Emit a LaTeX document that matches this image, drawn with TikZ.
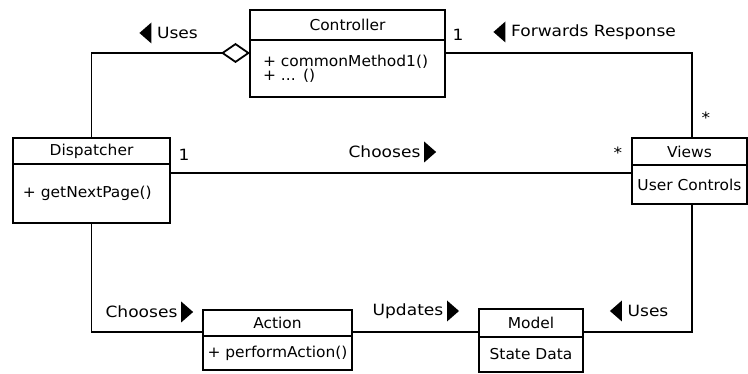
\documentclass[tikz,border=0pt]{standalone}
\usepackage{fontspec}
\setmainfont{DejaVu Sans}[FakeStretch=1.1]
\newfontfamily\classfamily{DejaVu Sans}[FakeStretch=1.03]
\usetikzlibrary{positioning,arrows.meta}
\newcommand{\boxfont}{\classfamily\fontsize{15}{14}\selectfont}
\newcommand{\lblfont}{\fontsize{15.5}{18}\selectfont}
% filled triangles beside the association names
\newcommand{\lefttri}[1]{\fill ([xshift=-5pt]#1.west) -- ++(0,10.5pt) -- ++(-12pt,-10.5pt) -- ++(12pt,-10.5pt) -- cycle;}
\newcommand{\righttri}[1]{\fill ([xshift=3pt]#1.east) -- ++(0,10.5pt) -- ++(12pt,-10.5pt) -- ++(-12pt,-10.5pt) -- cycle;}
\begin{document}
\begin{tikzpicture}[x=1pt, y=1pt, line width=1.4pt]
\tikzset{classtitle/.style={draw, line width=1.8pt, outer sep=0pt, inner sep=2pt, font=\boxfont},
  classbody/.style={draw, line width=1.8pt, outer sep=0pt, inner sep=2pt, font=\boxfont},
  assoc/.style={font=\lblfont, inner sep=0pt},
  mult/.style={font=\lblfont, inner sep=0pt}}
\useasboundingbox (0,0) rectangle (748,374);
% classes
\node[classtitle, minimum width=195, minimum height=30] (ctrl-t) at (347.5,349) {Controller};
\node[classbody, below=0pt of ctrl-t, minimum width=195, minimum height=57, text width=169, inner xsep=13, align=left] (ctrl-b) {+ commonMethod1()\\+ ... ()};
\node[classtitle, minimum width=157, minimum height=26] (disp-t) at (91.5,223) {Dispatcher};
\node[classbody, below=0pt of disp-t, minimum width=157, minimum height=59, text width=137, inner xsep=10, align=left] (disp-b) {+ getNextPage()};
\node[classtitle, minimum width=115, minimum height=27] (views-t) at (689.5,222.5) {Views};
\node[classbody, below=0pt of views-t, minimum width=115, minimum height=39] (views-b) {User Controls};
\node[classtitle, minimum width=149, minimum height=26] (act-t) at (277.5,51) {Action};
\node[classbody, below=0pt of act-t, minimum width=149, minimum height=34] (act-b) {+ performAction()};
\node[classtitle, minimum width=104, minimum height=28] (model-t) at (531,51) {Model};
\node[classbody, below=0pt of model-t, minimum width=104, minimum height=35] (model-b) {State Data};
% connectors
\coordinate (c-in) at ([yshift=-13pt]ctrl-b.north west);
\coordinate (c-out) at ([yshift=-13pt]ctrl-b.north east);
\coordinate (d-out) at ([yshift=-9pt]disp-b.north east);
\coordinate (a-in) at ([yshift=4pt]act-t.south west);
\coordinate (a-out) at ([yshift=4pt]act-t.south east);
\draw[-{Diamond[open, length=29pt, width=20pt, line width=1.8pt]}] (disp-t.north) |- (c-in);
\draw (c-out) -| ([xshift=2.5pt]views-t.north);
\draw (d-out) -- (d-out -| views-b.west);
\draw (disp-b.south) |- (a-in);
\draw (a-out) -- (a-out -| model-t.west);
\draw (a-out -| model-t.east) -| ([xshift=2.5pt]views-b.south);
% association names
\node[assoc] (uses1) at (177.5,341) {Uses};
\lefttri{uses1}
\node[assoc] (fwd) at (593.5,342) {Forwards Response};
\lefttri{fwd}
\node[assoc] (choose1) at (384.5,222) {Chooses};
\righttri{choose1}
\node[assoc] (choose2) at (141.5,62) {Chooses};
\righttri{choose2}
\node[assoc] (upd) at (408,63) {Updates};
\righttri{upd}
\node[assoc] (uses2) at (648,63) {Uses};
\lefttri{uses2}
% multiplicities
\node[mult] (m1) at (458,339) {1};
\node[mult] (m2) at (706,256) {*};
\node[mult] (m3) at (184,219) {1};
\node[mult] (m4) at (618,221) {*};
\end{tikzpicture}
\end{document}
